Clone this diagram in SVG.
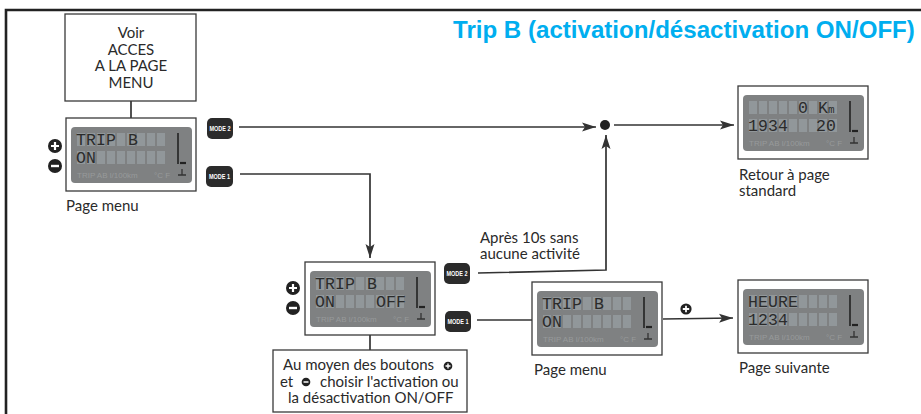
<svg xmlns="http://www.w3.org/2000/svg" width="921" height="414" viewBox="0 0 921 414">
<style>
.t{font-family:"Lato","Open Sans",sans-serif;font-size:15px;fill:#2a2a2a}
.m{text-anchor:middle}
.box{fill:#fff;stroke:#3a3a3a;stroke-width:1.3}
.c{fill:none;stroke:#333;stroke-width:1.7}
.lcd{font-family:"Liberation Mono",monospace;font-size:16.5px;fill:#2b2b2b;letter-spacing:.1px}
.tiny{font-family:"Liberation Sans",sans-serif;font-size:8px;fill:#979a9b}
.btn{fill:#2b2b2b}
.btxt{font-family:"Liberation Sans",sans-serif;font-size:6.5px;font-weight:bold;fill:#fff;text-anchor:middle}
.title{font-family:"Liberation Sans",sans-serif;font-size:24.1px;font-weight:bold;fill:#00aeef}
</style>
<defs>
<marker id="a" markerUnits="userSpaceOnUse" markerWidth="15" markerHeight="10" refX="14" refY="5" orient="auto"><path d="M0 0.5L14 5L0 9.5L3 5Z" fill="#333"/></marker>
<g id="lcd">
<rect class="box" x="0" y="0" width="130" height="73"/>
<rect x="5" y="9" width="121" height="56" rx="4" fill="#7f8182"/>
<path d="M11 15h8v13h-8zM21 15h8v13h-8zM31 15h8v13h-8zM41 15h8v13h-8zM51 15h8v13h-8zM61 15h8v13h-8zM71 15h8v13h-8zM81 15h8v13h-8zM91 15h8v13h-8zM11 33h8v13h-8zM21 33h8v13h-8zM31 33h8v13h-8zM41 33h8v13h-8zM51 33h8v13h-8zM61 33h8v13h-8zM71 33h8v13h-8zM81 33h8v13h-8zM91 33h8v13h-8z" fill="#91979a"/>
<path d="M112 15V46" fill="none" stroke="#222" stroke-width="1.6"/>
<path d="M114 45H120" fill="none" stroke="#222" stroke-width="2.2"/>
<path d="M116 51V57M112 57H120" fill="none" stroke="#333" stroke-width="1.3"/>
<text class="tiny" x="11" y="60">TRIP AB l/100km</text>
<text class="tiny" x="88" y="60">°C F</text>
</g>
<g id="plus"><circle r="7" fill="#222"/><path d="M-4 0H4M0 -4V4" stroke="#fff" stroke-width="2.2"/></g>
<g id="minus"><circle r="7" fill="#222"/><path d="M-4 0H4" stroke="#fff" stroke-width="2.4"/></g>
</defs>
<rect width="921" height="414" fill="#fff"/>
<path id="frame" d="M6 414V10H921" fill="none" stroke="#222" stroke-width="2.6"/>
<text id="title" class="title" x="453" y="38">Trip B (activation/désactivation ON/OFF)</text>

<g id="connectors">
<path class="c" d="M131 101V118"/>
<path class="c" d="M239 127H596" marker-end="url(#a)"/>
<path class="c" d="M614 125H734" marker-end="url(#a)"/>
<path class="c" d="M240 174H370V258" marker-end="url(#a)"/>
<path class="c" d="M370 335V350"/>
<path class="c" d="M478 273L606 270V135" marker-end="url(#a)"/>
<path class="c" d="M477 320H532"/>
<path class="c" d="M663 319L733 318" marker-end="url(#a)"/>
</g>

<g id="node-voir">
<rect class="box" x="65" y="14" width="131" height="87"/>
<text class="t m" x="131" y="38">Voir</text>
<text class="t m" x="131" y="55">ACCES</text>
<text class="t m" x="131" y="71">A LA PAGE</text>
<text class="t m" x="131" y="88">MENU</text>
</g>

<g id="node-page-menu-1">
<g transform="translate(66,118)"><use href="#lcd"/>
<text class="lcd" x="10" y="27">TRIP</text><text class="lcd" x="62" y="27">B</text><text class="lcd" x="10" y="45">ON</text></g>
<use href="#plus" x="55" y="146"/><use href="#minus" x="55" y="166"/>
<text class="t" x="66" y="211">Page menu</text>
</g>

<g id="node-mode2-a"><rect class="btn" x="207" y="118" width="26" height="21" rx="5"/><text class="btxt" x="220" y="131" textLength="21" lengthAdjust="spacingAndGlyphs">MODE 2</text></g>
<g id="node-mode1-a"><rect class="btn" x="206" y="166" width="27" height="21" rx="5"/><text class="btxt" x="219.500" y="179" textLength="21" lengthAdjust="spacingAndGlyphs">MODE 1</text></g>

<g id="node-junction"><circle cx="605" cy="125" r="5" fill="#222"/></g>

<g id="node-standard">
<g transform="translate(738,86)"><use href="#lcd"/>
<text class="lcd" x="60" y="27">0</text><text class="lcd" x="80" y="27">K</text><text class="lcd" x="90" y="27" style="font-size:11px">m</text>
<text class="lcd" x="10" y="45">1934</text><text class="lcd" x="78" y="45">20</text></g>
<text class="t" x="739" y="180">Retour à page</text>
<text class="t" x="739" y="196">standard</text>
</g>

<g id="node-onoff">
<g transform="translate(305,262)"><use href="#lcd"/>
<text class="lcd" x="10" y="27">TRIP</text><text class="lcd" x="62" y="27">B</text><text class="lcd" x="10" y="45">ON</text><text class="lcd" x="71" y="45">OFF</text></g>
<use href="#plus" x="293" y="288"/><use href="#minus" x="293" y="308"/>
</g>

<g id="node-caption">
<rect class="box" x="273" y="350" width="194" height="62"/>
<text class="t" x="283" y="370">Au moyen des boutons</text><use href="#plus" transform="translate(448,366) scale(.62)"/>
<text class="t" x="280" y="387">et</text><use href="#minus" transform="translate(306,382) scale(.62)"/><text class="t" x="320" y="387">choisir l'activation ou</text>
<text class="t" x="288" y="403">la désactivation ON/OFF</text>
</g>

<g id="label-apres"><text class="t" x="480" y="243">Après 10s sans</text><text class="t" x="480" y="259">aucune activité</text></g>

<g id="node-mode2-b"><rect class="btn" x="444" y="263" width="26" height="21" rx="5"/><text class="btxt" x="457" y="276" textLength="21" lengthAdjust="spacingAndGlyphs">MODE 2</text></g>
<g id="node-mode1-b"><rect class="btn" x="445" y="311" width="26" height="21" rx="5"/><text class="btxt" x="458" y="324" textLength="21" lengthAdjust="spacingAndGlyphs">MODE 1</text></g>

<g id="node-page-menu-2">
<g transform="translate(532,282)"><use href="#lcd"/>
<text class="lcd" x="10" y="27">TRIP</text><text class="lcd" x="62" y="27">B</text><text class="lcd" x="10" y="45">ON</text></g>
<text class="t" x="534" y="375">Page menu</text>
</g>

<g id="label-plus"><use href="#plus" transform="translate(686,309) scale(.8)"/></g>

<g id="node-suivante">
<g transform="translate(738,280)"><use href="#lcd"/>
<text class="lcd" x="10" y="27">HEURE</text><text class="lcd" x="10" y="45">1234</text></g>
<text class="t" x="739" y="373">Page suivante</text>
</g>
</svg>
